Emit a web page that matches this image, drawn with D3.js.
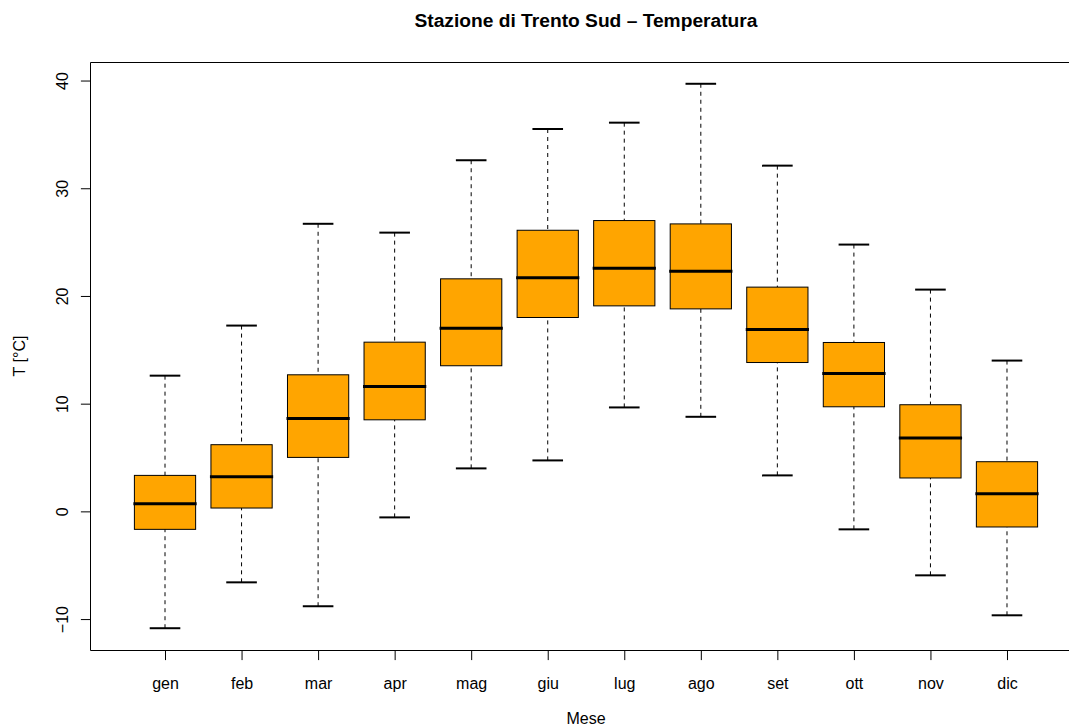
<!DOCTYPE html>
<html>
<head>
<meta charset="utf-8">
<script src="https://cdn.jsdelivr.net/npm/d3@7"></script>
<style>
  html, body { margin: 0; padding: 0; background: #ffffff; }
  svg { display: block; }
  text { font-family: "Liberation Sans", Arial, Helvetica, sans-serif; fill: #000; }
</style>
</head>
<body>
<svg id="chart" width="1069" height="728"></svg>
<script>
// ---- data ----
const months      = ["gen","feb","mar","apr","mag","giu","lug","ago","set","ott","nov","dic"];
const whiskerHigh = [12.6, 17.25, 26.7, 25.88, 32.6, 35.5, 36.09, 39.7, 32.1, 24.77, 20.59, 14.0];
const q3          = [3.34, 6.19, 12.68, 15.71, 21.59, 26.1, 27.0, 26.69, 20.82, 15.68, 9.9, 4.61];
const medians     = [0.71, 3.22, 8.63, 11.6, 17.01, 21.68, 22.58, 22.3, 16.88, 12.8, 6.81, 1.64];
const q1          = [-1.67, 0.31, 5.01, 8.5, 13.52, 18.0, 19.08, 18.8, 13.82, 9.71, 3.1, -1.45];
const whiskerLow  = [-10.85, -6.59, -8.81, -0.56, 3.99, 4.73, 9.65, 8.78, 3.34, -1.67, -5.94, -9.65];
const yTicks      = [-10, 0, 10, 20, 30, 40];
const titleText   = "Stazione di Trento Sud – Temperatura";
const xLabel      = "Mese";
const yLabel      = "T [°C]";

// ---- layout ----
const svg = d3.select("#chart");
const plotLeft = 90, plotRight = 1082, plotTop = 62, plotBottom = 650;
const n = months.length;

// R-style 4% extension of ranges
const xLo = 0.5, xHi = n + 0.5, xExt = (xHi - xLo) * 0.04;
const x = d3.scaleLinear().domain([xLo - xExt, xHi + xExt]).range([plotLeft, plotRight]);
const yMin = d3.min(whiskerLow), yMax = d3.max(whiskerHigh), yExt = (yMax - yMin) * 0.04;
const y = d3.scaleLinear().domain([yMin - yExt, yMax + yExt]).range([plotBottom, plotTop]);

const boxW = x(1.4) - x(1.0);    // half of 0.8 box width
const capW = x(1.2) - x(1.0);    // half of 0.4 staple width

const data = months.map((m, i) => ({
  m, i: i + 1, hi: whiskerHigh[i], q3: q3[i], med: medians[i], q1: q1[i], lo: whiskerLow[i]
}));

const g = svg.append("g");

// whiskers (dashed), drawn from the whisker end towards the box
g.selectAll(".wh-up").data(data).enter().append("line")
  .attr("x1", d => x(d.i)).attr("x2", d => x(d.i))
  .attr("y1", d => y(d.hi)).attr("y2", d => y(d.q3))
  .attr("stroke", "#000").attr("stroke-width", 1).attr("stroke-dasharray", "4,4");
g.selectAll(".wh-dn").data(data).enter().append("line")
  .attr("x1", d => x(d.i)).attr("x2", d => x(d.i))
  .attr("y1", d => y(d.lo)).attr("y2", d => y(d.q1))
  .attr("stroke", "#000").attr("stroke-width", 1).attr("stroke-dasharray", "4,4");

// staples
["hi", "lo"].forEach(k => {
  g.selectAll(".cap-" + k).data(data).enter().append("line")
    .attr("x1", d => x(d.i) - capW).attr("x2", d => x(d.i) + capW)
    .attr("y1", d => y(d[k])).attr("y2", d => y(d[k]))
    .attr("stroke", "#000").attr("stroke-width", 2);
});

// boxes
g.selectAll(".box").data(data).enter().append("rect")
  .attr("x", d => x(d.i) - boxW).attr("width", 2 * boxW)
  .attr("y", d => y(d.q3)).attr("height", d => y(d.q1) - y(d.q3))
  .attr("fill", "#FFA500").attr("stroke", "#000").attr("stroke-width", 1);

// medians
g.selectAll(".med").data(data).enter().append("line")
  .attr("x1", d => x(d.i) - boxW - 1).attr("x2", d => x(d.i) + boxW + 1)
  .attr("y1", d => y(d.med)).attr("y2", d => y(d.med))
  .attr("stroke", "#000").attr("stroke-width", 3);

// frame (right edge lies outside the window)
svg.append("path")
  .attr("d", `M${plotRight},${plotTop + 0.5}H${plotLeft + 0.5}V${plotBottom + 0.5}H${plotRight}`)
  .attr("fill", "none").attr("stroke", "#000").attr("stroke-width", 1);

// y axis
const yAxis = d3.axisLeft(y).tickValues(yTicks).tickSize(9.6).tickSizeOuter(0)
  .tickFormat(d => d < 0 ? "\u2212" + Math.abs(d) : String(d));
const ya = svg.append("g").attr("transform", `translate(${plotLeft + 0.5},0)`).call(yAxis);
ya.select(".domain").remove();
ya.selectAll(".tick line").attr("stroke", "#000");
ya.selectAll(".tick text")
  .attr("x", 0).attr("y", -23).attr("dy", 0)
  .attr("transform", "rotate(-90)")
  .attr("text-anchor", "middle")
  .style("font-size", "16px")
  .style("font-family", "'Liberation Sans', Arial, sans-serif");

// x axis
const xAxis = d3.axisBottom(x).tickValues(data.map(d => d.i)).tickSize(9.6).tickSizeOuter(0)
  .tickFormat(v => months[v - 1]);
const xa = svg.append("g").attr("transform", `translate(0,${plotBottom + 0.5})`).call(xAxis);
xa.select(".domain").remove();
xa.selectAll(".tick line").attr("stroke", "#000");
xa.selectAll(".tick text")
  .attr("y", 38.5).attr("dy", 0)
  .attr("text-anchor", "middle")
  .style("font-size", "16px")
  .style("font-family", "'Liberation Sans', Arial, sans-serif");

// title & axis labels
const cx = (plotLeft + plotRight) / 2;
svg.append("text").attr("x", cx).attr("y", 26.5).attr("text-anchor", "middle")
  .style("font-size", "19.2px").style("font-weight", "bold").text(titleText);
svg.append("text").attr("x", cx).attr("y", 724).attr("text-anchor", "middle")
  .style("font-size", "16px").text(xLabel);
svg.append("text").attr("transform", `translate(25,${(plotTop + plotBottom) / 2}) rotate(-90)`)
  .attr("text-anchor", "middle").style("font-size", "16px").text(yLabel);
</script>
</body>
</html>
